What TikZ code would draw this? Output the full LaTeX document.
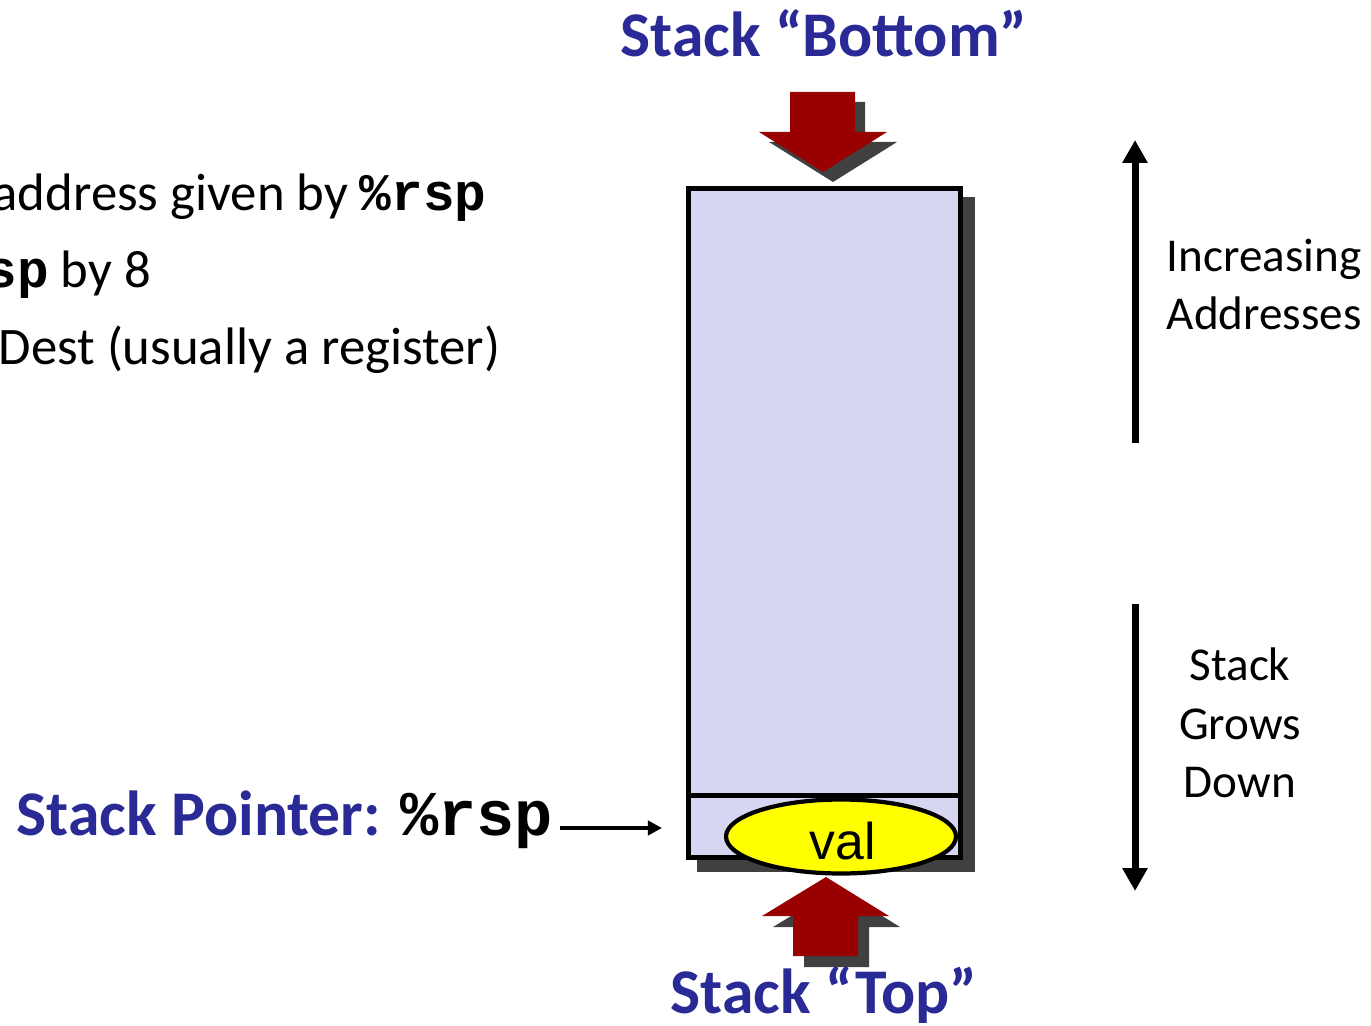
\documentclass[tikz,border=0pt]{standalone}
\usepackage{fontspec}
\setmainfont{Carlito}
\setmonofont{Liberation Mono}
\newfontfamily\arialfont{Liberation Sans}
\usepackage{xcolor}
\usepackage{tikz}
\usetikzlibrary{arrows.meta,calc}
\definecolor{title}{HTML}{2A2A96}
\definecolor{stackfill}{HTML}{D6D6F3}
\definecolor{blockred}{HTML}{990000}
\definecolor{shade}{HTML}{404040}
\definecolor{valfill}{HTML}{FFFF00}
\newcommand\regname[1]{\texttt{\bfseries #1}}
\tikzset{
  frame/.style={line width=1.4pt, draw=black, fill=stackfill},
  blk/.style={fill=blockred},
  shd/.style={fill=shade},
  ttl/.style={text=title, font=\fontsize{18.1}{21}\selectfont\bfseries, inner sep=0pt, anchor=base},
  txt/.style={font=\fontsize{15}{18}\selectfont, inner sep=0pt, anchor=base west},
  side/.style={font=\fontsize{13.4}{16}\selectfont, inner sep=0pt, anchor=base},
  dir/.style={line width=2pt, -{Triangle[width=6.8pt, length=6.5pt]}},
  ptr/.style={line width=1.1pt, -{Triangle[width=4pt, length=4pt]}},
}

\begin{document}
\begin{tikzpicture}[x=0.01cm, y=-0.01cm]
  \useasboundingbox (0,0) rectangle (1371,1025);

  % shadows, then the stack itself
  \fill[shd] (697,197) rectangle (975,872);
  \draw[frame] (688.5,188.5) rectangle (960.5,857.5);
  \draw[line width=1.4pt] (688.5,795.5) -- (960.5,795.5);

  % value on top of the stack
  \draw[line width=1.2pt, fill=valfill] (841,836.5) ellipse [x radius=115, y radius=37];
  \node[font=\arialfont\fontsize{14.7}{17}\selectfont, inner sep=0pt, anchor=base] (val) at (843,859) {val};

  % block arrows (bottom / top of stack)
  \foreach \s/\st in {10/shd,0/blk}
    \fill[\st, shift={(\s,\s)}] (790,92) -- (855,92) -- (855,132) -- (887,132)
      -- (823,172) -- (759,132) -- (790,132) -- cycle;
  \foreach \s/\st in {11/shd,0/blk}
    \fill[\st, shift={(\s,\s)}] (826,877) -- (889,916) -- (858,916) -- (858,956)
      -- (793,956) -- (793,916) -- (762,916) -- cycle;

  \node[ttl] (bottomlbl) at (824,57) {Stack “Bottom”};
  \node[ttl] (toplbl) at (824,1013) {Stack “Top”};

  % stack pointer
  \node[ttl, anchor=base west] (splbl) at (16,835) {Stack Pointer:\hspace{0.3em}\textcolor{black}{\regname{\%rsp}}};
  \coordinate (ptrtip) at (662,828);
  \draw[ptr] ($(splbl.east |- ptrtip)+(6,0)$) -- (ptrtip);

  % instruction text (cut at the left edge)
  \node[txt] (line1) at (-8,211) {address given by \regname{\%rsp}};
  \node[txt] (line2) at (-15,288) {\regname{sp} by 8};
  \node[txt] (line3) at (-2,365) {Dest (usually a register)};

  % address direction
  \coordinate (upfoot) at (1135,443);
  \coordinate (uphead) at (1135,140);
  \coordinate (dnfoot) at (1135,604);
  \coordinate (dnhead) at (1135,891);
  \draw[dir] (upfoot) -- (uphead);
  \draw[dir] (dnfoot) -- (dnhead);

  \node[side, anchor=base west] (incr) at (1166,272) {Increasing};
  \node[side, anchor=base west] (addr) at (1166,330) {Addresses};
  \node[side] (grow1) at (1240,680) {Stack};
  \node[side] (grow2) at (1240,739) {Grows};
  \node[side] (grow3) at (1240,797) {Down};
\end{tikzpicture}
\end{document}
